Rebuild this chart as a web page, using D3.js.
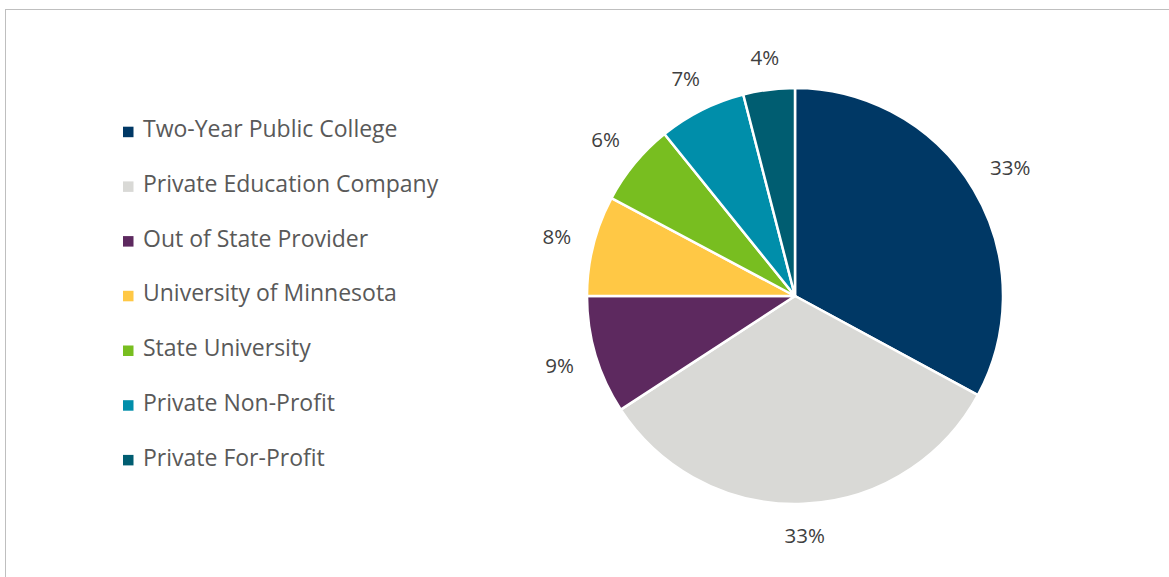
<!DOCTYPE html>
<html>
<head>
<meta charset="utf-8">
<script src="https://cdn.jsdelivr.net/npm/d3@7"></script>
<style>
  body { margin: 0; background: #fff; }
  svg { display: block; font-family: "Open Sans", Lato, sans-serif; }
</style>
</head>
<body>
<div class="chart"></div>
<script>
var categories = [
  "Two-Year Public College",
  "Private Education Company",
  "Out of State Provider",
  "University of Minnesota",
  "State University",
  "Private Non-Profit",
  "Private For-Profit"
];
var shares = [32.9, 32.9, 9.2, 7.8, 6.4, 6.8, 4.0];
var colors = ["#003865", "#d9d9d6", "#5d295f", "#ffc845", "#78be20", "#008eaa", "#005d71"];

var width = 1169;
var height = 577;

var svg = d3
  .select(".chart")
  .append("svg")
  .attr("width", width)
  .attr("height", height);

// chart frame (runs off the right and bottom edges)
svg
  .append("rect")
  .attr("x", 5.5)
  .attr("y", 9.5)
  .attr("width", 1300)
  .attr("height", 700)
  .attr("fill", "none")
  .attr("stroke", "#bfbfbf")
  .attr("stroke-width", 1);

var data = categories.map((c, i) => ({ name: c, value: shares[i], color: colors[i] }));
var total = d3.sum(shares);

var cx = 795, cy = 296, radius = 208;

var pie = d3.pie().sort(null).value(d => d.value);
var arc = d3.arc().innerRadius(0).outerRadius(radius);

var g = svg.append("g").attr("transform", `translate(${cx}, ${cy})`);

var arcs = pie(data);

g.selectAll("path")
  .data(arcs)
  .enter()
  .append("path")
  .attr("d", arc)
  .attr("fill", d => d.data.color)
  .attr("stroke", "#fff")
  .attr("stroke-width", 2.5)
  .attr("stroke-linejoin", "round");

// outside-end labels, pushed out by half the label box
g.selectAll("text.pct")
  .data(arcs)
  .enter()
  .append("text")
  .attr("class", "pct")
  .attr("text-anchor", "middle")
  .attr("dy", "0.36em")
  .attr("font-size", 20.5)
  .attr("fill", "#404040")
  .text(d => Math.round(d.data.value / total * 100) + "%")
  .attr("transform", function(d) {
    var a = (d.startAngle + d.endAngle) / 2;
    var sx = Math.sin(a), sy = -Math.cos(a);
    var halfW = this.getComputedTextLength() / 2;
    var r = radius + 23 + Math.abs(sx) * halfW * 0.9 + Math.abs(sy) * 7.8;
    return `translate(${sx * r}, ${sy * r})`;
  });

// legend
var legend = svg
  .append("g")
  .attr("transform", "translate(123, 137.3)");

var row = legend
  .selectAll("g")
  .data(data)
  .enter()
  .append("g")
  .attr("transform", (d, i) => `translate(0, ${i * 54.7})`);

row
  .append("rect")
  .attr("x", 0)
  .attr("y", -10.6)
  .attr("width", 10.5)
  .attr("height", 10.5)
  .attr("fill", d => d.color);

row
  .append("text")
  .attr("x", 20)
  .attr("y", 0)
  .attr("font-size", 23)
  .attr("fill", "#595959")
  .text(d => d.name);
</script>
</body>
</html>
